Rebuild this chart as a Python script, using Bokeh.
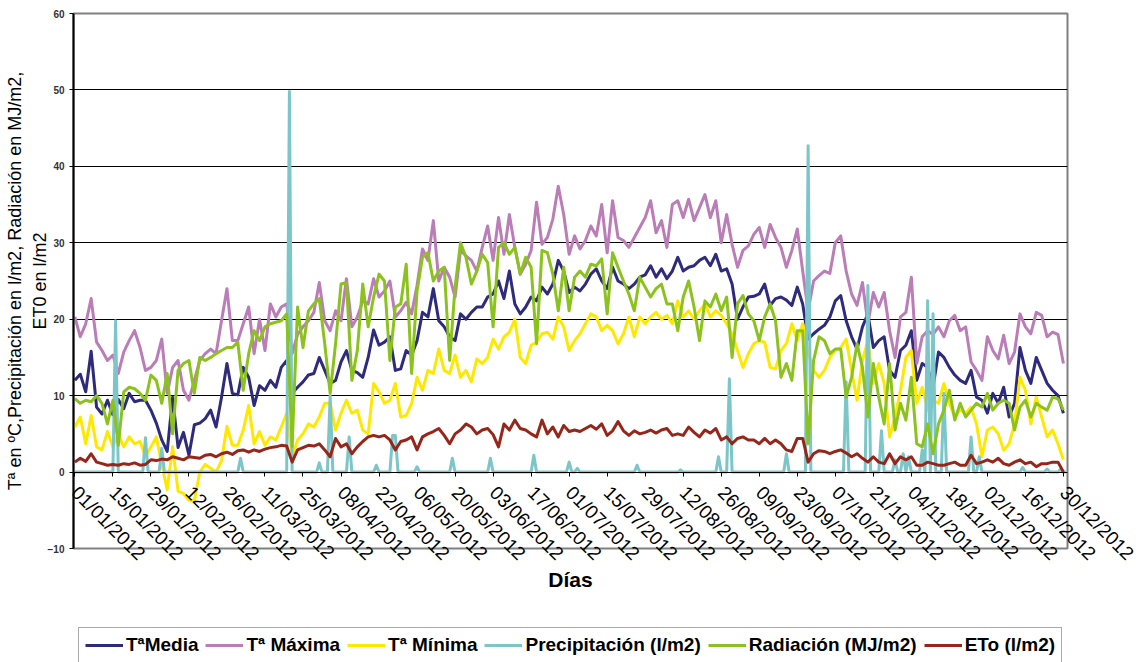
import math
from bokeh.plotting import figure
from bokeh.layouts import column
from bokeh.models import Range1d, LinearAxis, FixedTicker, Legend, LegendItem
from bokeh.embed import file_html
from bokeh.resources import INLINE

# ---------------- data (2012, one value every 2 days) ----------------
t_media = [
    12.0, 12.8, 10.5, 15.8, 8.5, 7.6, 9.4, 7.5, 9.5, 8.3,
    10.3, 9.2, 9.4, 9.4, 8.1, 6.4, 4.2, 2.7, 9.8, 3.2,
    5.2, 2.2, 6.2, 6.4, 7.0, 8.1, 5.9, 9.8, 14.2, 10.3,
    10.1, 13.7, 12.4, 8.7, 11.3, 10.7, 12.0, 11.1, 13.7, 14.6,
    10.3, 11.1, 11.8, 12.7, 12.9, 15.0, 13.3, 11.6, 12.0, 14.4,
    15.9, 13.3, 13.0, 12.4, 15.0, 18.6, 16.6, 17.0, 17.7, 13.3,
    13.5, 15.9, 15.3, 17.2, 20.9, 20.3, 24.0, 19.8, 19.0, 17.7,
    17.2, 20.7, 20.0, 20.9, 21.6, 21.6, 22.9, 23.3, 25.0, 22.7,
    26.3, 22.0, 20.7, 21.6, 22.9, 22.4, 24.2, 23.3, 24.6, 27.7,
    26.3, 23.5, 24.2, 23.7, 24.6, 25.9, 26.6, 25.0, 24.0, 26.8,
    25.0, 24.6, 24.0, 24.6, 25.5, 25.8, 27.0, 25.5, 26.6, 25.3,
    26.3, 28.1, 26.3, 26.8, 27.0, 27.7, 28.1, 27.0, 28.5, 26.3,
    26.6, 24.6, 20.0, 21.6, 22.9, 23.0, 23.3, 24.6, 21.8, 22.7,
    22.9, 22.5, 21.8, 24.2, 22.0, 17.4, 18.1, 18.7, 19.2, 20.3,
    22.4, 23.1, 19.8, 17.7, 16.1, 19.0, 20.7, 16.3, 17.2, 17.7,
    13.3, 12.4, 15.9, 16.6, 18.5, 12.0, 14.2, 13.7, 11.1, 15.7,
    15.0, 13.7, 12.7, 12.0, 11.6, 13.3, 9.8, 9.4, 7.7, 10.3,
    9.0, 11.1, 7.2, 9.0, 16.3, 13.3, 11.6, 15.0, 13.3, 11.6,
    10.7, 10.0, 7.7,
]
t_maxima = [
    20.3, 17.7, 19.4, 22.7, 17.0, 15.9, 14.6, 15.3, 12.9, 15.7,
    17.2, 18.5, 16.3, 13.3, 13.7, 14.6, 17.4, 10.3, 13.7, 14.6,
    10.7, 9.4, 12.0, 14.6, 15.5, 16.1, 15.5, 19.8, 24.0, 17.2,
    17.2, 19.4, 21.6, 15.5, 20.0, 15.9, 22.0, 20.3, 21.6, 22.0,
    15.5, 18.0, 19.0, 19.8, 20.9, 24.8, 19.8, 18.5, 21.1, 19.8,
    25.3, 19.0, 20.3, 22.4, 22.0, 25.3, 22.9, 23.7, 25.0, 20.3,
    21.1, 22.2, 20.7, 24.4, 29.2, 27.7, 32.9, 25.0, 26.8, 25.5,
    22.9, 29.0, 28.3, 27.7, 26.3, 29.4, 32.2, 27.7, 33.3, 28.5,
    33.7, 29.4, 25.9, 27.2, 29.0, 35.3, 29.8, 30.7, 33.1, 37.4,
    33.7, 28.5, 30.9, 29.2, 30.3, 32.2, 30.9, 35.0, 28.7, 35.5,
    30.7, 30.3, 29.4, 30.7, 32.0, 33.3, 35.5, 31.3, 32.9, 29.4,
    35.0, 35.5, 33.3, 35.7, 32.9, 34.6, 36.3, 33.3, 35.5, 30.0,
    33.7, 29.8, 26.8, 29.0, 29.6, 31.1, 32.0, 29.4, 32.4, 30.7,
    29.4, 26.8, 29.0, 31.8, 26.3, 21.1, 25.0, 25.7, 26.3, 26.0,
    30.0, 30.9, 26.3, 23.3, 21.8, 24.8, 19.4, 23.5, 21.6, 23.5,
    18.5, 15.0, 20.3, 20.9, 25.5, 14.2, 17.7, 18.5, 18.0, 19.0,
    17.7, 19.8, 20.5, 18.5, 19.0, 14.4, 13.3, 12.0, 17.7, 15.9,
    14.8, 17.9, 14.2, 15.7, 20.7, 19.0, 18.1, 20.9, 20.5, 17.7,
    18.3, 18.0, 14.2,
]
t_minima = [
    5.9, 7.2, 3.7, 7.4, 3.3, 2.9, 5.3, 3.3, 5.0, 3.3,
    4.6, 3.7, 4.0, 2.0, 3.3, 4.6, 1.0, -2.3, 3.3, -2.5,
    -2.8, -3.7, -3.7, 0.0, 1.0, 0.5, 0.0, 1.5, 6.0, 3.5,
    3.5, 5.5, 8.7, 3.7, 5.3, 3.5, 4.6, 4.2, 5.9, 7.7,
    2.0, 4.2, 5.0, 6.3, 5.9, 7.2, 9.0, 9.0, 5.5, 7.7,
    9.4, 7.7, 8.1, 5.5, 5.0, 11.6, 10.5, 9.0, 9.4, 11.6,
    7.2, 7.4, 9.0, 12.4, 10.7, 13.3, 12.9, 16.1, 13.3, 12.9,
    15.3, 12.4, 13.3, 11.8, 14.8, 14.2, 15.0, 17.4, 16.1, 17.7,
    18.3, 20.0, 15.0, 14.2, 16.6, 17.0, 18.1, 18.3, 17.4, 20.3,
    19.0, 15.9, 17.2, 18.1, 19.4, 20.7, 20.3, 18.5, 19.2, 18.5,
    16.8, 18.1, 20.3, 17.7, 20.3, 19.4, 20.3, 20.9, 20.0, 20.5,
    19.4, 22.4, 20.3, 21.1, 20.0, 21.1, 22.0, 20.3, 21.1, 20.5,
    19.4, 18.1, 15.9, 13.7, 15.5, 16.8, 17.2, 17.0, 13.7, 13.5,
    15.9, 16.8, 19.4, 17.2, 19.4, 15.7, 13.3, 12.4, 13.3, 15.0,
    15.9, 16.3, 17.4, 13.3, 9.4, 14.6, 17.2, 11.6, 14.2, 11.6,
    4.6, 7.2, 10.7, 15.0, 15.9, 9.0, 11.1, 8.1, 9.4, 9.0,
    11.6, 9.0, 7.2, 8.1, 7.7, 8.5, 6.3, 2.0, 5.5, 5.9,
    5.0, 2.9, 3.7, 6.3, 12.4, 10.7, 6.3, 9.8, 7.2, 4.6,
    5.5, 3.7, 1.6,
]
radiacion = [
    9.6, 9.0, 9.4, 9.2, 10.0, 9.0, 6.3, 9.4, 3.5, 10.5,
    11.1, 10.9, 10.3, 9.4, 12.7, 12.0, 9.0, 12.9, 5.0, 13.3,
    14.2, 14.6, 10.3, 15.0, 14.6, 15.0, 15.5, 15.9, 16.3, 16.3,
    17.0, 10.7, 15.5, 18.5, 17.2, 19.0, 19.4, 19.6, 19.8, 20.7,
    3.3, 21.6, 16.3, 21.1, 22.0, 22.7, 16.8, 10.3, 16.8, 24.6,
    24.8, 12.0, 15.9, 24.6, 19.0, 22.9, 25.9, 25.0, 14.6, 21.6,
    22.0, 27.2, 12.9, 23.7, 28.1, 28.7, 25.0, 26.3, 26.8, 14.6,
    24.2, 30.0, 28.1, 24.6, 26.3, 28.5, 27.4, 19.0, 29.4, 30.0,
    28.5, 29.4, 25.9, 28.1, 26.8, 16.8, 29.0, 28.7, 25.9, 21.1,
    26.8, 21.1, 25.5, 26.3, 25.5, 27.2, 27.0, 27.9, 20.7, 28.7,
    26.8, 25.0, 23.3, 21.1, 25.5, 24.2, 22.9, 24.0, 24.6, 22.0,
    22.0, 18.5, 22.9, 25.0, 21.6, 17.2, 22.4, 21.6, 23.3, 21.1,
    22.9, 15.0, 22.0, 23.1, 20.7, 19.8, 17.2, 20.3, 22.0, 19.8,
    12.4, 14.2, 12.0, 18.5, 18.5, 3.7, 14.6, 17.7, 17.2, 15.5,
    16.1, 16.1, 9.8, 12.4, 16.8, 13.7, 7.2, 14.2, 9.8, 6.3,
    14.2, 5.5, 9.0, 6.8, 12.4, 3.7, 3.3, 6.3, 2.4, 6.3,
    8.1, 10.7, 6.8, 9.0, 7.2, 8.1, 9.0, 8.5, 10.3, 8.1,
    9.0, 9.4, 9.0, 5.5, 8.5, 9.4, 7.2, 9.0, 8.5, 8.1,
    9.8, 9.6, 8.1,
]
eto = [
    1.3, 1.8, 1.4, 2.4, 1.3, 1.1, 0.9, 1.0, 0.9, 1.1,
    1.0, 1.2, 0.9, 1.0, 1.6, 1.5, 1.7, 1.6, 2.0, 1.8,
    1.6, 2.0, 1.9, 1.8, 2.2, 2.3, 2.0, 2.4, 2.6, 2.3,
    2.8, 2.9, 2.6, 2.9, 2.7, 3.0, 3.2, 3.3, 3.5, 3.4,
    1.3, 2.9, 3.2, 3.5, 3.4, 3.7, 2.9, 2.0, 4.4, 3.3,
    3.7, 2.4, 3.3, 4.0, 4.6, 4.8, 4.6, 4.8, 4.2, 2.9,
    4.0, 4.2, 4.6, 2.9, 4.6, 5.0, 5.3, 5.7, 4.8, 3.7,
    5.0, 5.5, 6.3, 5.9, 5.0, 5.5, 5.7, 4.9, 3.3, 6.3,
    5.5, 6.8, 5.7, 5.5, 5.0, 4.6, 6.8, 5.0, 5.9, 4.6,
    6.1, 5.3, 5.5, 5.3, 5.7, 6.1, 5.6, 6.3, 4.8, 5.4,
    6.6, 5.4, 4.8, 5.4, 5.0, 5.2, 5.5, 5.1, 5.5, 5.7,
    4.8, 5.0, 4.8, 5.9, 5.2, 4.6, 5.5, 5.1, 5.7, 4.2,
    4.6, 3.7, 4.4, 4.6, 4.2, 4.2, 3.7, 4.4, 3.7, 4.2,
    3.7, 2.9, 2.7, 4.4, 4.4, 1.3, 2.4, 2.8, 2.7, 2.4,
    2.7, 2.9, 2.5, 2.0, 2.4, 1.8, 1.3, 2.0, 1.3, 1.1,
    2.4, 1.1, 2.0, 1.6, 2.0, 0.9, 0.9, 1.3, 1.1, 0.9,
    0.9, 1.1, 1.3, 0.9, 0.9, 2.2, 1.1, 1.3, 1.6, 1.3,
    1.8, 1.1, 0.9, 1.3, 1.6, 1.1, 1.3, 0.7, 1.1, 1.1,
    1.3, 1.3, 0.0,
]
# precipitation: rainy days (day of year, 0 = 01/01) and amounts
precip_dias = [15, 26, 32, 61, 79, 90, 94, 101, 111, 117, 118, 126, 139, 153,
               169, 182, 185, 207, 223, 237, 241, 262, 270, 284, 292, 297, 302,
               305, 307, 312, 314, 316, 320, 330, 333, 349, 358, 363]
precip_vals = [19.8, 4.5, 3.1, 1.8, 49.8, 1.2, 10.0, 4.6, 0.9, 4.8, 4.8, 0.7, 1.8, 1.8,
               2.2, 1.3, 0.5, 0.9, 0.3, 2.0, 12.2, 2.4, 42.7, 11.8, 24.4, 5.4, 1.6,
               2.4, 2.0, 2.9, 22.4, 20.7, 10.3, 4.6, 2.0, 0.6, 0.4, 0.4]

tick_labels = ["01/01/2012", "15/01/2012", "29/01/2012", "12/02/2012", "26/02/2012",
               "11/03/2012", "25/03/2012", "08/04/2012", "22/04/2012", "06/05/2012",
               "20/05/2012", "03/06/2012", "17/06/2012", "01/07/2012", "15/07/2012",
               "29/07/2012", "12/08/2012", "26/08/2012", "09/09/2012", "23/09/2012",
               "07/10/2012", "21/10/2012", "04/11/2012", "18/11/2012", "02/12/2012",
               "16/12/2012", "30/12/2012"]
tick_dias = list(range(0, 366, 14))[:len(tick_labels)]
y_ticks = [-10, 0, 10, 20, 30, 40, 50, 60]
y_title_1 = "Tª en ºC,Precipitación en l/m2, Radiación en MJ/m2,"
y_title_2 = "ET0 en l/m2"

series_names = ["TªMedia", "Tª Máxima", "Tª Mínima", "Precipitación (l/m2)",
                "Radiación (MJ/m2)", "ETo (l/m2)"]
series_colors = ["#2E2A7C", "#BB7DB7", "#FFE800", "#7CC6C9", "#8CC21E", "#96261A"]

n_dias = 366
dias_diarios = list(range(n_dias))
precip = [0.0] * n_dias
for d, v in zip(precip_dias, precip_vals):
    precip[d] = v

def dias_de(serie):
    return list(range(0, 2 * len(serie), 2))

FONT = "Liberation Sans"

p = figure(width=1139, height=627, output_backend="svg", toolbar_location=None,
           x_range=Range1d(-0.5, 365.5), y_range=Range1d(-10, 60),
           x_axis_location=None, min_border_left=73, min_border_right=72,
           min_border_top=13, min_border_bottom=79)
p.background_fill_color = "white"
p.border_fill_color = "white"
p.outline_line_color = "#808080"
p.outline_line_width = 2

# y axis (second title line is its label)
p.yaxis.ticker = FixedTicker(ticks=y_ticks)
p.yaxis.major_label_text_font = FONT
p.yaxis.major_label_text_font_size = "10px"
p.yaxis.major_label_text_font_style = "bold"
p.yaxis.major_label_text_color = "#333333"
p.yaxis.major_tick_out = 4
p.yaxis.major_tick_in = 0
p.yaxis.major_label_standoff = 5
p.yaxis.minor_tick_line_color = None
p.yaxis.axis_line_color = "black"
p.yaxis.axis_line_width = 2
p.yaxis.major_tick_line_color = "black"
p.yaxis.axis_label = y_title_2
p.yaxis.axis_label_text_font = FONT
p.yaxis.axis_label_text_font_size = "18px"
p.yaxis.axis_label_text_font_style = "normal"
p.yaxis.axis_label_text_color = "black"
p.yaxis.axis_label_standoff = -5

# first title line, further out on the left
y_title_axis = LinearAxis(ticker=FixedTicker(ticks=[]), axis_line_color=None,
                          major_tick_line_color=None, minor_tick_line_color=None,
                          major_label_text_font_size="0px",
                          axis_label=y_title_1, axis_label_standoff=2,
                          axis_label_text_font=FONT, axis_label_text_font_size="18px",
                          axis_label_text_font_style="normal",
                          axis_label_text_color="black")
p.add_layout(y_title_axis, "left")

p.ygrid.ticker = FixedTicker(ticks=y_ticks)
p.ygrid.grid_line_color = "black"
p.ygrid.grid_line_width = 1
p.xgrid.visible = False

# x axis line and ticks crossing at 0 (labels drawn by the axis below)
x_cross = LinearAxis(fixed_location=0, ticker=FixedTicker(ticks=tick_dias),
                     major_label_overrides={d: "" for d in tick_dias},
                     major_tick_out=4, major_tick_in=0, major_tick_line_color="black",
                     minor_tick_line_color=None, axis_line_color="black",
                     axis_line_width=1)
p.add_layout(x_cross, "below")

# x tick labels (pulled up into the -10..0 band) + axis title
x_lab = LinearAxis(ticker=FixedTicker(ticks=tick_dias),
                   major_label_overrides={d: s for d, s in zip(tick_dias, tick_labels)},
                   major_label_orientation=-math.pi / 4,
                   major_label_text_font=FONT, major_label_text_font_size="19px",
                   major_label_text_color="black", major_label_standoff=-59,
                   major_tick_out=0, major_tick_in=0, major_tick_line_color=None,
                   minor_tick_line_color=None, axis_line_color=None,
                   axis_label="Días", axis_label_standoff=-7,
                   axis_label_text_font=FONT, axis_label_text_font_size="21px",
                   axis_label_text_font_style="bold", axis_label_text_color="black")
p.add_layout(x_lab, "below")

# series (in Excel order)
kw = dict(line_width=3, line_join="round")
series_x = [dias_de(t_media), dias_de(t_maxima), dias_de(t_minima), dias_diarios,
            dias_de(radiacion), dias_de(eto)]
series_y = [t_media, t_maxima, t_minima, precip, radiacion, eto]
for xs, ys, c in zip(series_x, series_y, series_colors):
    p.line(xs, ys, color=c, **kw)

# legend strip below the chart (its frame lines up with the chart frame)
leg = figure(width=1139, height=35, output_backend="svg", toolbar_location=None,
             x_axis_location=None, y_axis_location=None, min_border=0,
             x_range=Range1d(1000, 1001), y_range=Range1d(1000, 1001))
leg.outline_line_color = None
leg.grid.visible = False
leg.background_fill_color = "white"
leg.border_fill_color = "white"
# same series drawn outside the visible range: only their legend glyphs show
leg_renderers = [leg.line(xs, ys, color=c, line_width=3)
                 for xs, ys, c in zip(series_x, series_y, series_colors)]
legend = Legend(items=[LegendItem(label=n, renderers=[r])
                       for n, r in zip(series_names, leg_renderers)],
                orientation="horizontal", location=(5, -1),
                label_text_font=FONT, label_text_font_style="bold",
                label_text_font_size="19px", label_text_color="black",
                glyph_width=38, glyph_height=18, label_standoff=3,
                spacing=7, padding=6, margin=0,
                border_line_color="#555555", border_line_width=1,
                background_fill_color="white", background_fill_alpha=1.0)
leg.add_layout(legend)

page = column(p, leg, spacing=0)
open("out.html", "w").write(file_html(page, INLINE))
